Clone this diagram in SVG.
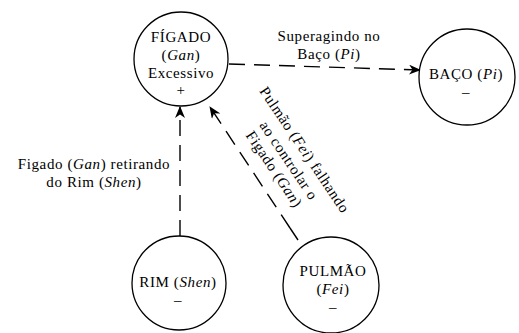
<svg xmlns="http://www.w3.org/2000/svg" width="519" height="333" viewBox="0 0 519 333">
<style>
.n{fill:#fff;stroke:#000;stroke-width:1.3}
.t{font-family:"Liberation Serif",serif;font-size:15px;letter-spacing:0.6px;fill:#000;text-anchor:middle}
.i{font-style:italic}
.c{fill:none;stroke:#000;stroke-width:1.4;stroke-dasharray:16 9}
</style>
<defs>
<marker id="ah" viewBox="0 0 12 10" refX="11" refY="5" markerWidth="12" markerHeight="10" markerUnits="userSpaceOnUse" orient="auto">
<path d="M0,0 L12,5 L0,10 L3.5,5 z" fill="#000"/>
</marker>
</defs>
<rect width="519" height="333" fill="#fff"/>
<g id="connectors">
<path class="c" d="M229,64 L420,70" marker-end="url(#ah)"/>
<path class="c" d="M180,236 L180,107" marker-end="url(#ah)"/>
<path class="c" d="M290,228 L210,107" marker-end="url(#ah)"/>
<path d="M290,228 L298,240" stroke="#000" stroke-width="1.4"/>
<text class="t" x="329" y="41">Superagindo no</text>
<text class="t" x="329" y="59">Baço (<tspan class="i">Pi</tspan>)</text>
<text class="t" x="94" y="169">Figado (<tspan class="i">Gan</tspan>) retirando</text>
<text class="t" x="94" y="187">do Rim (<tspan class="i">Shen</tspan>)</text>
<g transform="translate(288,161) rotate(56)">
<text class="t" x="0" y="-15">Pulmão (<tspan class="i">Fei</tspan>) falhando</text>
<text class="t" x="0" y="4">ao controlar o</text>
<text class="t" x="-1" y="21">Figado (<tspan class="i">Gan</tspan>)</text>
</g>
</g>
<g id="figado">
<circle class="n" cx="181" cy="59" r="47"/>
<text class="t" x="181" y="42">FÍGADO</text>
<text class="t" x="181" y="60">(<tspan class="i">Gan</tspan>)</text>
<text class="t" x="181" y="78">Excessivo</text>
<text class="t" x="181" y="95">+</text>
</g>
<g id="baco">
<circle class="n" cx="467" cy="77" r="48"/>
<text class="t" x="466" y="79">BAÇO (<tspan class="i">Pi</tspan>)</text>
<text class="t" x="466" y="97">–</text>
</g>
<g id="rim">
<circle class="n" cx="179" cy="283" r="47"/>
<text class="t" x="178" y="287">RIM (<tspan class="i">Shen</tspan>)</text>
<text class="t" x="178" y="305">–</text>
</g>
<g id="pulmao">
<circle class="n" cx="331" cy="285" r="48"/>
<text class="t" x="333" y="276">PULMÃO</text>
<text class="t" x="333" y="294">(<tspan class="i">Fei</tspan>)</text>
<text class="t" x="333" y="312">–</text>
</g>
</svg>
